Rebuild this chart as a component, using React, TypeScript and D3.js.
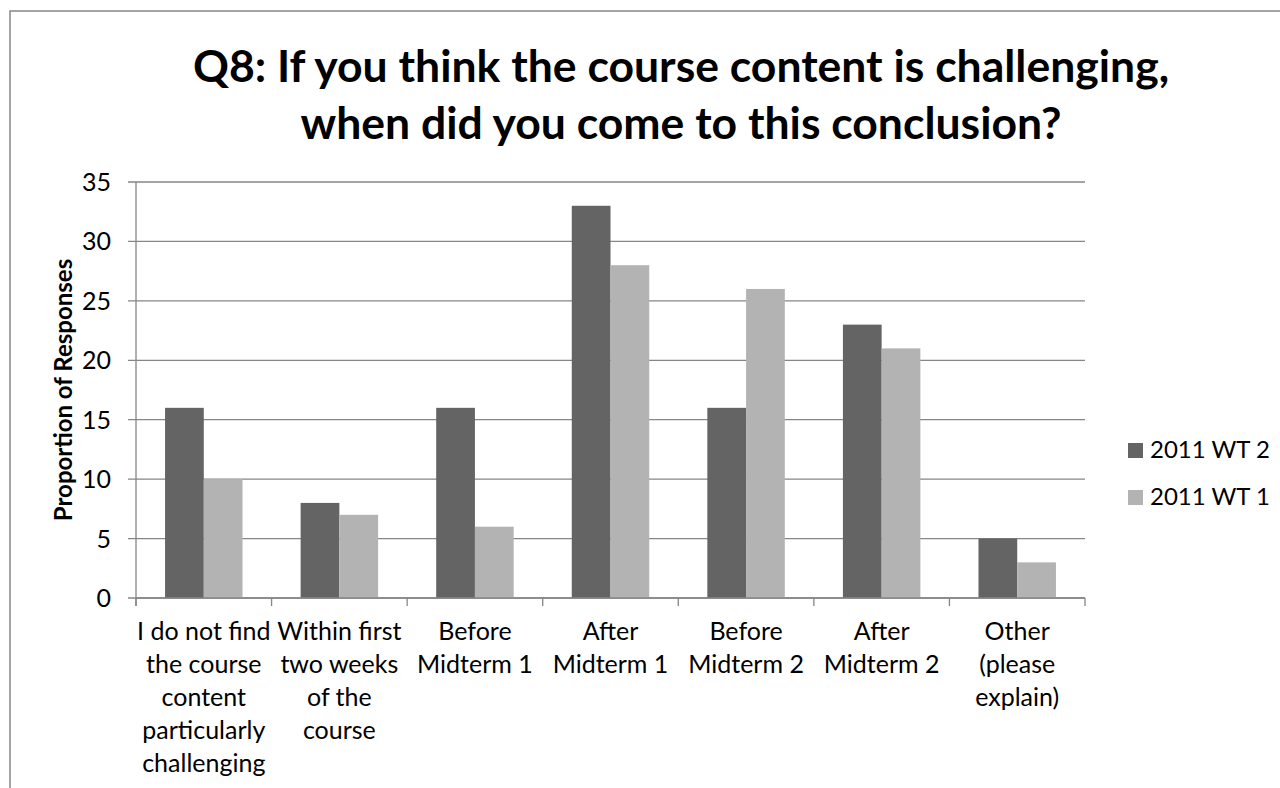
import React from "react";
import * as d3 from "d3";

const categories: string[][] = [
  ["I do not find", "the course", "content", "particularly", "challenging"],
  ["Within first", "two weeks", "of the", "course"],
  ["Before", "Midterm 1"],
  ["After", "Midterm 1"],
  ["Before", "Midterm 2"],
  ["After", "Midterm 2"],
  ["Other", "(please", "explain)"],
];
const seriesNames = ["2011 WT 2", "2011 WT 1"];
const wt2 = [16, 8, 16, 33, 16, 23, 5];
const wt1 = [10, 7, 6, 28, 26, 21, 3];
const yTicks = [0, 5, 10, 15, 20, 25, 30, 35];
const titleLines = [
  "Q8: If you think the course content is challenging,",
  "when did you come to this conclusion?",
];
const yTitle = "Proportion of Responses";

const colors = ["#646464", "#b3b3b3"];
const gridColor = "#868686";
const font = "Lato, 'Noto Sans', sans-serif";

export default function App() {
  const W = 1280;
  const H = 788;
  const left = 136;
  const right = 1085;
  const top = 182;
  const bottom = 598;

  const idx = categories.map((_, i) => i);
  const x0 = d3.scaleBand<number>().domain(idx).range([left, right]).padding(0);
  const bw = x0.bandwidth();
  const x1 = d3
    .scaleBand<number>()
    .domain([0, 1])
    .range([(0.75 / 3.5) * bw, (2.75 / 3.5) * bw])
    .padding(0);
  const y = d3.scaleLinear().domain([0, 35]).range([bottom, top]);
  const series = [wt2, wt1];

  return (
    <svg width={W} height={H} style={{ position: "absolute", left: 0, top: 0 }}>
      <rect x={0} y={0} width={W} height={H} fill="#fff" />
      <rect x={10} y={11} width={W + 20} height={H + 20} fill="none" stroke={gridColor} strokeWidth={1.5} />
      {/* Title */}
      {titleLines.map((t, i) => (
        <text
          key={i}
          x={681}
          y={82 + i * 57}
          textAnchor="middle"
          fontFamily={font}
          fontWeight="bold"
          fontSize={44.5}
          fill="#000"
        >
          {t}
        </text>
      ))}
      {/* Gridlines */}
      {yTicks.map((t) => (
        <line
          key={t}
          x1={left - 8}
          x2={right}
          y1={y(t)}
          y2={y(t)}
          stroke={gridColor}
          strokeWidth={1.3}
        />
      ))}
      {/* Y axis */}
      <line x1={left} x2={left} y1={top} y2={bottom + 8} stroke={gridColor} strokeWidth={1.3} />
      {yTicks.map((t) => (
        <text
          key={"l" + t}
          x={111}
          y={y(t)}
          dy="0.36em"
          textAnchor="end"
          fontFamily={font}
          fontSize={25}
          fill="#000"
        >
          {t}
        </text>
      ))}
      <text
        transform={`translate(72, 390) rotate(-90)`}
        textAnchor="middle"
        fontFamily={font}
        fontWeight="bold"
        fontSize={24}
        fill="#000"
      >
        {yTitle}
      </text>
      {/* Bars */}
      {idx.map((i) =>
        series.map((s, si) => (
          <rect
            key={i + "-" + si}
            x={(x0(i) as number) + (x1(si) as number)}
            y={y(s[i])}
            width={x1.bandwidth()}
            height={y(0) - y(s[i])}
            fill={colors[si]}
          />
        ))
      )}
      {/* X axis */}
      <line x1={left} x2={right} y1={bottom} y2={bottom} stroke={gridColor} strokeWidth={1.3} />
      {[...idx, idx.length].map((i) => {
        const xx = i < idx.length ? (x0(i) as number) : right;
        return (
          <line key={"t" + i} x1={xx} x2={xx} y1={bottom} y2={bottom + 8} stroke={gridColor} strokeWidth={1.3} />
        );
      })}
      {idx.map((i) => (
        <text
          key={"c" + i}
          textAnchor="middle"
          fontFamily={font}
          fontSize={25}
          fill="#000"
        >
          {categories[i].map((line, li) => (
            <tspan key={li} x={(x0(i) as number) + bw / 2} y={640 + li * 33}>
              {line}
            </tspan>
          ))}
        </text>
      ))}
      {/* Legend */}
      {seriesNames.map((n, si) => (
        <g key={n}>
          <rect x={1128} y={443 + si * 47} width={15} height={15} fill={colors[si]} />
          <text x={1150} y={458 + si * 47} fontFamily={font} fontSize={24} fill="#000">
            {n}
          </text>
        </g>
      ))}
    </svg>
  );
}
